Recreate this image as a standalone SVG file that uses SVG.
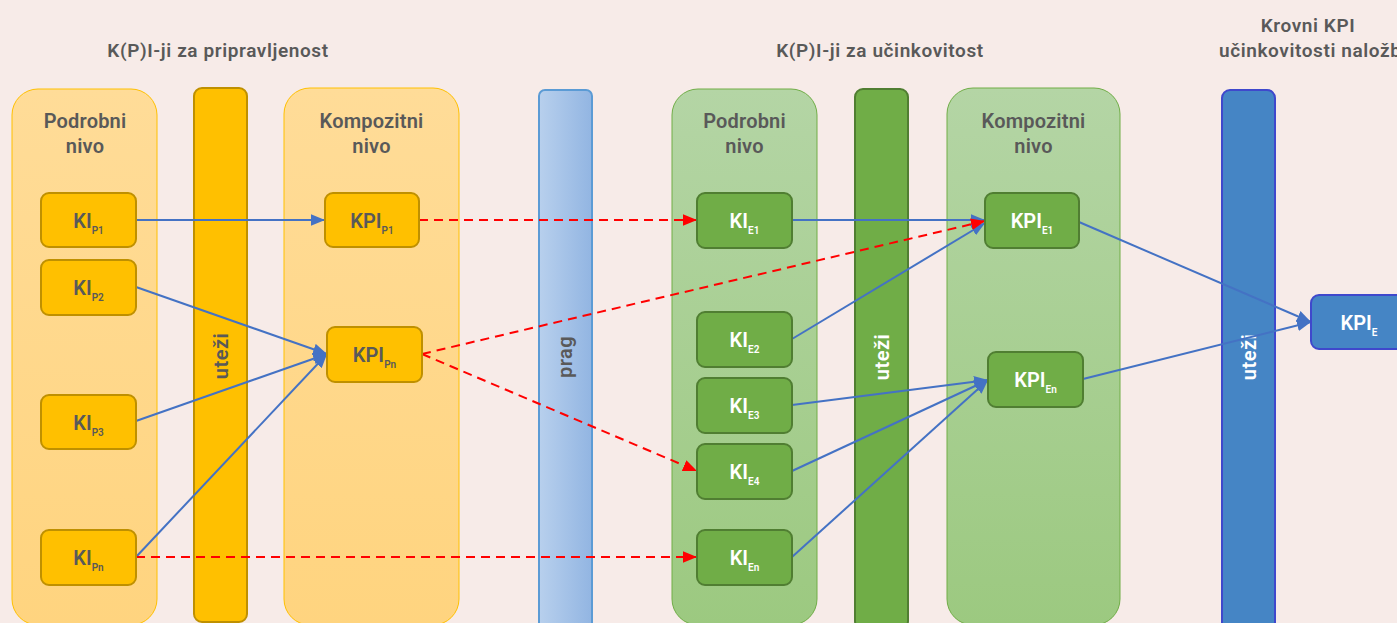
<svg xmlns="http://www.w3.org/2000/svg" width="1397" height="623" viewBox="0 0 1397 623">
<style>
text{font-family:Roboto,"Liberation Sans",sans-serif;font-weight:600}
.hd{font-size:19px;fill:#595959;text-anchor:middle;letter-spacing:0.6px}
.cl{font-size:20px;fill:#595959;text-anchor:middle;letter-spacing:0.2px}
.vl{font-size:20px;text-anchor:middle;letter-spacing:0.5px}
.nl{font-size:20px;text-anchor:middle}
.sb{font-size:10px}
.dk{fill:#595959}
.wh{fill:#ffffff}
.ycont{fill:url(#gy);stroke:#ffc000;stroke-width:1}
.gcont{fill:url(#gg);stroke:#70ad47;stroke-width:1}
.ybar{fill:#ffc000;stroke:#bf9000;stroke-width:2}
.gbar{fill:#70ad47;stroke:#507e32;stroke-width:2}
.bbar{fill:#4585c5;stroke:#3f48cc;stroke-width:2}
.pbar{fill:url(#gb);stroke:#5b9bd5;stroke-width:2}
.yn{fill:#ffc000;stroke:#bf9000;stroke-width:2}
.gn{fill:#70ad47;stroke:#507e32;stroke-width:2}
.bn{fill:#4585c5;stroke:#3f48cc;stroke-width:2}
.blu{fill:none;stroke:#4472c4;stroke-width:2;marker-end:url(#ab)}
.red{fill:none;stroke:#ff0000;stroke-width:2;stroke-dasharray:9 6;marker-end:url(#ar)}
</style>
<defs>
<linearGradient id="gy" x1="0" y1="0" x2="0" y2="1"><stop offset="0" stop-color="#ffdc98"/><stop offset="1" stop-color="#ffd47f"/></linearGradient>
<linearGradient id="gg" x1="0" y1="0" x2="0" y2="1"><stop offset="0" stop-color="#b4d5a5"/><stop offset="1" stop-color="#9cc980"/></linearGradient>
<linearGradient id="gb" x1="0" y1="0" x2="1" y2="0"><stop offset="0" stop-color="#b8d0ed"/><stop offset="1" stop-color="#92b5e2"/></linearGradient>
<marker id="ab" viewBox="0 0 12 10" refX="12" refY="5" markerWidth="14" markerHeight="12" orient="auto" markerUnits="userSpaceOnUse"><path d="M0,0 L12,5 L0,10 z" fill="#4472c4"/></marker>
<marker id="ar" viewBox="0 0 12 10" refX="12" refY="5" markerWidth="14" markerHeight="12" orient="auto" markerUnits="userSpaceOnUse"><path d="M0,0 L12,5 L0,10 z" fill="#ff0000"/></marker>
</defs>
<rect x="0" y="0" width="1397" height="623" fill="#f7ebe8"/>

<g id="titles">
<text class="hd" x="218" y="57">K(P)I-ji za pripravljenost</text>
<text class="hd" x="880" y="57">K(P)I-ji za učinkovitost</text>
<text class="hd" x="1308" y="32">Krovni KPI</text>
<text class="hd" x="1219" y="57" style="text-anchor:start">učinkovitosti naložb</text>
</g>

<g id="cont-p-detail">
<rect class="ycont" x="12" y="89" width="145" height="536" rx="26"/>
<text class="cl" x="85" y="128">Podrobni</text>
<text class="cl" x="85" y="153">nivo</text>
</g>
<g id="bar-p-weights">
<rect class="ybar" x="194" y="88" width="53" height="534" rx="8"/>
<text class="vl dk" transform="translate(220.5,356) rotate(-90)" y="7">uteži</text>
</g>
<g id="cont-p-comp">
<rect class="ycont" x="284" y="88" width="175" height="537" rx="26"/>
<text class="cl" x="371.5" y="128">Kompozitni</text>
<text class="cl" x="371.5" y="153">nivo</text>
</g>
<g id="bar-prag">
<rect class="pbar" x="539" y="90" width="53" height="540" rx="6"/>
<text class="vl dk" transform="translate(565.5,357) rotate(-90)" y="6">prag</text>
</g>
<g id="cont-e-detail">
<rect class="gcont" x="672" y="89" width="145" height="536" rx="26"/>
<text class="cl" x="744.5" y="128">Podrobni</text>
<text class="cl" x="744.5" y="153">nivo</text>
</g>
<g id="bar-e-weights">
<rect class="gbar" x="855" y="89" width="53" height="540" rx="8"/>
<text class="vl wh" transform="translate(881.5,357) rotate(-90)" y="7">uteži</text>
</g>
<g id="cont-e-comp">
<rect class="gcont" x="947" y="88" width="173" height="537" rx="26"/>
<text class="cl" x="1033.5" y="128">Kompozitni</text>
<text class="cl" x="1033.5" y="153">nivo</text>
</g>
<g id="bar-krovni-weights">
<rect class="bbar" x="1222" y="90" width="53" height="540" rx="8"/>
<text class="vl wh" transform="translate(1248.5,357) rotate(-90)" y="7">uteži</text>
</g>

<g id="connectors">
<line class="blu" x1="136" y1="220" x2="325" y2="220"/>
<line class="blu" x1="136" y1="287" x2="327" y2="354"/>
<line class="blu" x1="136" y1="421" x2="327" y2="354"/>
<line class="blu" x1="136" y1="557" x2="327" y2="354"/>
<line class="blu" x1="792" y1="220" x2="985" y2="220"/>
<line class="blu" x1="792" y1="339" x2="985" y2="223"/>
<line class="blu" x1="792" y1="405" x2="988" y2="380"/>
<line class="blu" x1="792" y1="471" x2="988" y2="380"/>
<line class="blu" x1="792" y1="557" x2="988" y2="380"/>
<line class="blu" x1="1079" y1="222" x2="1311" y2="322"/>
<line class="blu" x1="1083" y1="379" x2="1311" y2="322"/>
<line class="red" x1="419" y1="220" x2="697" y2="220"/>
<line class="red" x1="422" y1="354" x2="985" y2="221"/>
<line class="red" x1="422" y1="354" x2="697" y2="471"/>
<line class="red" x1="136" y1="557" x2="697" y2="557"/>
</g>

<g id="KI_P1"><rect class="yn" x="41" y="193" width="95" height="54" rx="8"/><text class="nl dk" x="88.5" y="228">KI<tspan class="sb" dy="6">P1</tspan></text></g>
<g id="KI_P2"><rect class="yn" x="41" y="260" width="95" height="55" rx="8"/><text class="nl dk" x="88.5" y="295">KI<tspan class="sb" dy="6">P2</tspan></text></g>
<g id="KI_P3"><rect class="yn" x="41" y="395" width="95" height="54" rx="8"/><text class="nl dk" x="88.5" y="430">KI<tspan class="sb" dy="6">P3</tspan></text></g>
<g id="KI_Pn"><rect class="yn" x="41" y="530" width="95" height="55" rx="8"/><text class="nl dk" x="88.5" y="565">KI<tspan class="sb" dy="6">Pn</tspan></text></g>
<g id="KPI_P1"><rect class="yn" x="325" y="193" width="94" height="54" rx="8"/><text class="nl dk" x="372" y="228">KPI<tspan class="sb" dy="6">P1</tspan></text></g>
<g id="KPI_Pn"><rect class="yn" x="327" y="327" width="95" height="55" rx="8"/><text class="nl dk" x="374.5" y="362">KPI<tspan class="sb" dy="6">Pn</tspan></text></g>

<g id="KI_E1"><rect class="gn" x="697" y="193" width="95" height="55" rx="8"/><text class="nl wh" x="744.5" y="228">KI<tspan class="sb" dy="6">E1</tspan></text></g>
<g id="KI_E2"><rect class="gn" x="697" y="312" width="95" height="55" rx="8"/><text class="nl wh" x="744.5" y="347">KI<tspan class="sb" dy="6">E2</tspan></text></g>
<g id="KI_E3"><rect class="gn" x="697" y="378" width="95" height="55" rx="8"/><text class="nl wh" x="744.5" y="413">KI<tspan class="sb" dy="6">E3</tspan></text></g>
<g id="KI_E4"><rect class="gn" x="697" y="444" width="95" height="55" rx="8"/><text class="nl wh" x="744.5" y="479">KI<tspan class="sb" dy="6">E4</tspan></text></g>
<g id="KI_En"><rect class="gn" x="697" y="530" width="95" height="55" rx="8"/><text class="nl wh" x="744.5" y="565">KI<tspan class="sb" dy="6">En</tspan></text></g>
<g id="KPI_E1"><rect class="gn" x="985" y="193" width="94" height="55" rx="8"/><text class="nl wh" x="1032" y="228">KPI<tspan class="sb" dy="6">E1</tspan></text></g>
<g id="KPI_En"><rect class="gn" x="988" y="352" width="95" height="55" rx="8"/><text class="nl wh" x="1035.5" y="387">KPI<tspan class="sb" dy="6">En</tspan></text></g>

<g id="KPI_E"><rect class="bn" x="1311" y="295" width="96" height="54" rx="8"/><text class="nl wh" x="1359" y="330">KPI<tspan class="sb" dy="6">E</tspan></text></g>
</svg>
